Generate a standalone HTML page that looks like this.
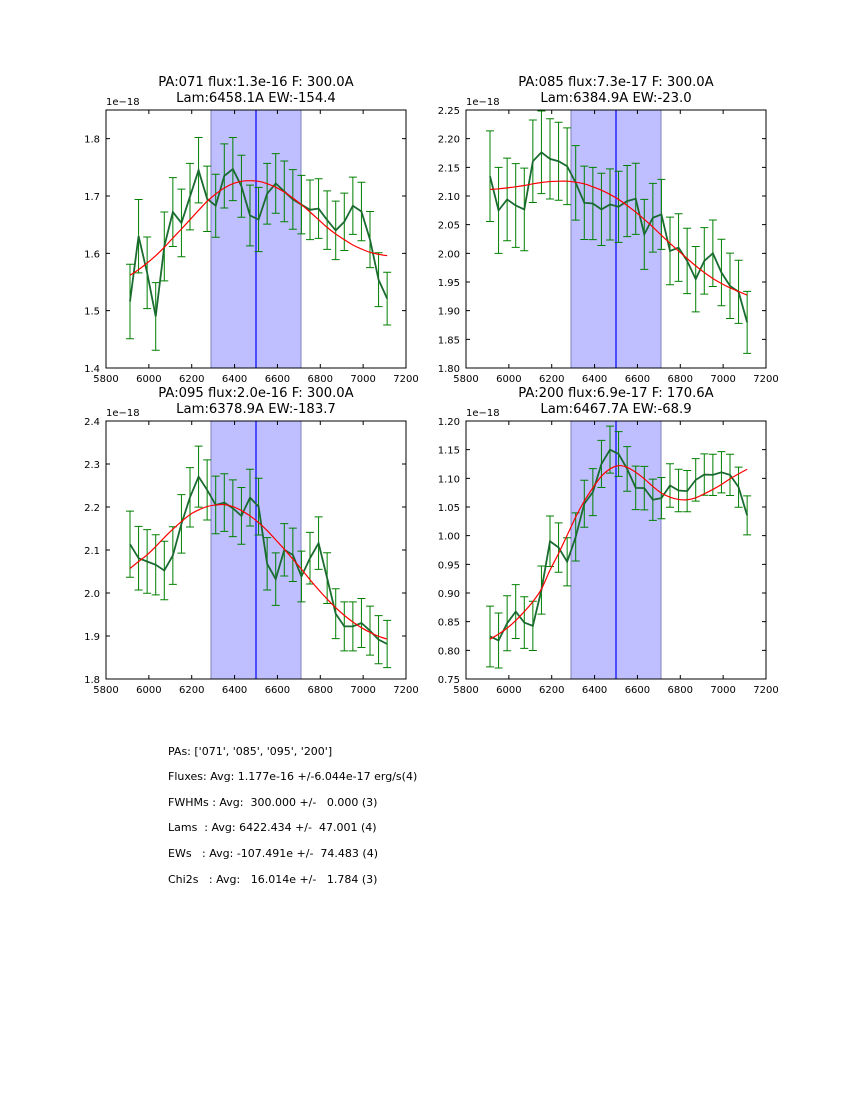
<!DOCTYPE html>
<html><head><meta charset="utf-8"><style>
body{margin:0;background:#fff;width:850px;height:1100px;overflow:hidden;font-family:"DejaVu Sans","Liberation Sans",sans-serif}
#stats{position:absolute;left:168px;top:745px;font-size:11px;color:#000}
#stats div{position:absolute;left:0;white-space:pre}
</style></head><body>
<svg id="fig" width="850" height="1100" style="position:absolute;left:0;top:0;font-family:'DejaVu Sans','Liberation Sans',sans-serif"></svg>
<div id="stats">
<div style="top:0">PAs: ['071', '085', '095', '200']</div>
<div style="top:25px">Fluxes: Avg: 1.177e-16 +/-6.044e-17 erg/s(4)</div>
<div style="top:51px">FWHMs : Avg:  300.000 +/-   0.000 (3)</div>
<div style="top:76px">Lams  : Avg: 6422.434 +/-  47.001 (4)</div>
<div style="top:102px">EWs   : Avg: -107.491e +/-  74.483 (4)</div>
<div style="top:128px">Chi2s   : Avg:   16.014e +/-   1.784 (3)</div>
</div>
<script>
const wavelengths=[5912,5952,5992,6032,6072,6112,6152,6192,6232,6272,6312,6352,6392,6432,6472,6512,6552,6592,6632,6672,6712,6752,6792,6832,6872,6912,6952,6992,7032,7072,7112];
const xTicks=[5800,6000,6200,6400,6600,6800,7000,7200];
const titles1=["PA:071 flux:1.3e-16 F: 300.0A","PA:085 flux:7.3e-17 F: 300.0A","PA:095 flux:2.0e-16 F: 300.0A","PA:200 flux:6.9e-17 F: 170.6A"];
const titles2=["Lam:6458.1A EW:-154.4","Lam:6384.9A EW:-23.0","Lam:6378.9A EW:-183.7","Lam:6467.7A EW:-68.9"];
const yRanges=[[1.4,1.85],[1.8,2.25],[1.8,2.4],[0.75,1.2]];
const yTickLists=[[1.4,1.5,1.6,1.7,1.8],[1.8,1.85,1.9,1.95,2.0,2.05,2.1,2.15,2.2,2.25],[1.8,1.9,2.0,2.1,2.2,2.3,2.4],[0.75,0.8,0.85,0.9,0.95,1.0,1.05,1.1,1.15,1.2]];
const yDecimals=[1,2,1,2];
const band=[6290,6710];
const centerLine=6500;
const flux1=[1.516,1.630,1.566,1.490,1.612,1.672,1.653,1.699,1.745,1.695,1.683,1.735,1.747,1.717,1.666,1.659,1.704,1.722,1.708,1.694,1.685,1.676,1.678,1.658,1.640,1.655,1.683,1.673,1.624,1.554,1.521];
const err1=[0.065,0.064,0.0625,0.059,0.06,0.06,0.059,0.058,0.057,0.057,0.055,0.056,0.055,0.054,0.053,0.056,0.053,0.052,0.053,0.052,0.051,0.052,0.052,0.051,0.051,0.05,0.05,0.051,0.049,0.047,0.046];
const fit1=[1.5616,1.5715,1.5831,1.5959,1.6105,1.6267,1.6424,1.6587,1.675,1.6907,1.7035,1.714,1.7215,1.7256,1.7267,1.7256,1.7215,1.7151,1.707,1.6965,1.6849,1.6721,1.6587,1.6453,1.6337,1.6238,1.6145,1.6076,1.6017,1.5983,1.5959];
const flux2=[2.1345,2.0749,2.094,2.0835,2.0766,2.1606,2.1762,2.1647,2.1606,2.1519,2.1229,2.0882,2.087,2.0766,2.0853,2.0812,2.0911,2.0951,2.0331,2.0621,2.0679,2.0042,2.01,1.9868,1.9549,1.9868,2.0001,1.9665,1.9433,1.9329,1.8796];
const err2=[0.079,0.075,0.072,0.073,0.072,0.072,0.072,0.070,0.068,0.067,0.065,0.064,0.063,0.063,0.062,0.062,0.062,0.062,0.061,0.060,0.061,0.059,0.059,0.057,0.057,0.058,0.058,0.058,0.057,0.055,0.054];
const fit2=[2.1114,2.1125,2.1142,2.116,2.1183,2.1212,2.1235,2.1252,2.1258,2.1258,2.1241,2.1212,2.116,2.1102,2.1027,2.094,2.0835,2.072,2.0592,2.0459,2.0314,2.0175,2.0042,1.9909,1.9781,1.9665,1.9561,1.9474,1.9398,1.9334,1.9271];
const flux3=[2.1135,2.081,2.0733,2.0656,2.0524,2.0872,2.1607,2.2226,2.2706,2.2397,2.2048,2.2103,2.1971,2.1793,2.2219,2.201,2.0679,2.0323,2.1004,2.0888,2.0385,2.081,2.1159,2.0346,1.9518,1.9224,1.9224,1.9302,1.9124,1.8915,1.8814];
const err3=[0.077,0.074,0.074,0.07,0.068,0.067,0.068,0.069,0.071,0.07,0.067,0.067,0.066,0.066,0.066,0.066,0.061,0.061,0.061,0.062,0.059,0.06,0.061,0.059,0.058,0.057,0.057,0.057,0.057,0.056,0.055];
const fit3=[2.0571,2.0733,2.0888,2.1081,2.129,2.1484,2.1662,2.1824,2.1932,2.201,2.2048,2.2056,2.201,2.1917,2.1793,2.1638,2.1453,2.1236,2.1019,2.0787,2.0555,2.0308,2.0075,1.9859,1.9658,1.948,1.9325,1.9193,1.9085,1.8992,1.893];
const flux4=[0.8242,0.8172,0.8473,0.8676,0.8485,0.8427,0.9052,0.9903,0.9793,0.9544,0.9978,1.0557,1.0759,1.1251,1.15,1.1425,1.1164,1.0834,1.0829,1.0626,1.0655,1.0875,1.0788,1.0777,1.0973,1.1066,1.106,1.1106,1.106,1.0846,1.0354];
const err4=[0.053,0.048,0.048,0.047,0.045,0.043,0.042,0.044,0.043,0.042,0.042,0.041,0.041,0.041,0.041,0.039,0.039,0.038,0.038,0.036,0.036,0.038,0.037,0.036,0.037,0.036,0.036,0.036,0.036,0.035,0.034];
const fit4=[0.8196,0.8282,0.8387,0.852,0.8676,0.885,0.9069,0.9399,0.9689,1.0007,1.0325,1.0603,1.0834,1.1037,1.1164,1.1222,1.1193,1.1106,1.0991,1.0858,1.0742,1.0672,1.0632,1.0626,1.0661,1.073,1.0806,1.0892,1.0991,1.1078,1.1159];
const fluxes=[flux1,flux2,flux3,flux4], errs=[err1,err2,err3,err4], fits=[fit1,fit2,fit3,fit4];
const panelPos=[[106,110],[466,110],[106,421],[466,421]];
const W=300,H=258,X0=5800,X1=7200;
const NS='http://www.w3.org/2000/svg';
const svg=document.getElementById('fig');
function mk(tag,attrs,parent){const e=document.createElementNS(NS,tag);for(const k in attrs)e.setAttribute(k,attrs[k]);(parent||svg).appendChild(e);return e;}
function smooth(pts){let d='M'+pts[0][0]+','+pts[0][1];for(let i=0;i<pts.length-1;i++){const p0=pts[Math.max(0,i-1)],p1=pts[i],p2=pts[i+1],p3=pts[Math.min(pts.length-1,i+2)];
d+=' C'+(p1[0]+(p2[0]-p0[0])/6)+','+(p1[1]+(p2[1]-p0[1])/6)+' '+(p2[0]-(p3[0]-p1[0])/6)+','+(p2[1]-(p3[1]-p1[1])/6)+' '+p2[0]+','+p2[1];}return d;}
for(let p=0;p<4;p++){
  const [L,T]=panelPos[p];const [y0,y1]=yRanges[p];
  const sx=v=>L+(v-X0)/(X1-X0)*W, sy=v=>T+H-(v-y0)/(y1-y0)*H;
  const g=mk('g',{});
  
  
  const b=mk('rect',{x:sx(band[0]),y:T,width:sx(band[1])-sx(band[0]),height:H,fill:'#bfbfff',stroke:'#7f7fbf','stroke-width':1},g);
  
  
  const cl=mk('line',{x1:sx(centerLine),x2:sx(centerLine),y1:T,y2:T+H,stroke:'#0000ff','stroke-width':1.2},g);
  
  
  const fl=fluxes[p],er=errs[p],ft=fits[p];
  for(let i=0;i<wavelengths.length;i++){
    const x=sx(wavelengths[i]),ya=sy(fl[i]+er[i]),yb=sy(fl[i]-er[i]);
    const e=mk('path',{d:`M${x},${ya}V${yb}M${x-4},${ya}H${x+4}M${x-4},${yb}H${x+4}`,stroke:'#008000','stroke-width':1,fill:'none'},g);
    
    
  }
  const ln=mk('polyline',{points:wavelengths.map((w,i)=>sx(w)+','+sy(fl[i])).join(' '),fill:'none',stroke:'#1a6b30','stroke-width':1.8},g);
  
  
  const fp=mk('path',{d:smooth(wavelengths.map((w,i)=>[sx(w),sy(ft[i])])),fill:'none',stroke:'#ff0000','stroke-width':1.2},g);
  
  
  const fr=mk('rect',{x:L,y:T,width:W,height:H,fill:'none',stroke:'#000','stroke-width':1},g);
  
  
  for(const t of xTicks){const x=sx(t);
    mk('path',{d:`M${x},${T+H}v-4M${x},${T}v4`,stroke:'#000','stroke-width':1},g);
    const tx=mk('text',{x:x,y:T+H+14,'text-anchor':'middle','font-size':'10px',fill:'#000'},g);tx.textContent=t;
    
    }
  for(const t of yTickLists[p]){const y=sy(t);
    mk('path',{d:`M${L},${y}h4M${L+W},${y}h-4`,stroke:'#000','stroke-width':1},g);
    const ty=mk('text',{x:L-6,y:y+4,'text-anchor':'end','font-size':'10px',fill:'#000'},g);ty.textContent=t.toFixed(yDecimals[p]);
    
    }
  const off=mk('text',{x:L,y:T-5,'font-size':'10px',fill:'#000'},g);off.textContent='1e\u221218';
  
  
  const t1=mk('text',{x:L+W/2,y:T-24,'text-anchor':'middle','font-size':'13.2px',fill:'#000'},g);t1.textContent=titles1[p];
  
  
  const t2=mk('text',{x:L+W/2,y:T-8,'text-anchor':'middle','font-size':'13.2px',fill:'#000'},g);t2.textContent=titles2[p];
  
  
}
</script>
</body></html>
